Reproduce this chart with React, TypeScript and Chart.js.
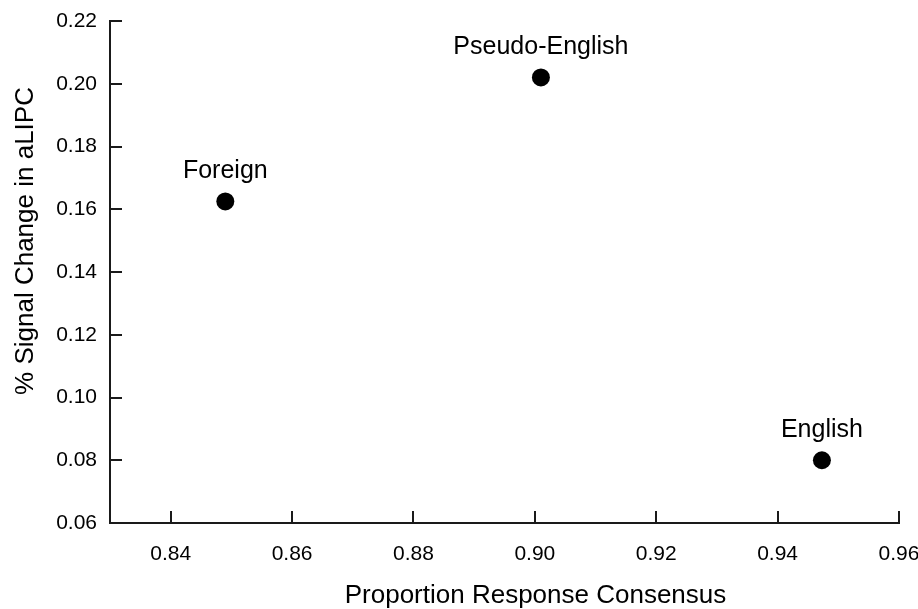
import { useEffect, useRef } from 'react';
import { Chart, registerables } from 'chart.js';

Chart.register(...registerables);

const categories = ['Foreign', 'Pseudo-English', 'English'];
const consensus = [0.849, 0.901, 0.9473];
const signalChange = [0.1625, 0.202, 0.08];
const xTickValues = [0.84, 0.86, 0.88, 0.9, 0.92, 0.94, 0.96];
const yTickValues = [0.06, 0.08, 0.1, 0.12, 0.14, 0.16, 0.18, 0.2, 0.22];
const xTitle = 'Proportion Response Consensus';
const yTitle = '% Signal Change in aLIPC';

const FONT = "'Liberation Sans', Arial, Helvetica, sans-serif";
const INK = '#000000';
const AXIS = '#1a1a1a';

const inwardTicks = {
  id: 'inwardTicks',
  afterDraw(chart: any) {
    const { ctx, chartArea } = chart;
    const xs = chart.scales.x;
    const ys = chart.scales.y;
    const len = 12;
    ctx.save();
    ctx.strokeStyle = AXIS;
    ctx.lineWidth = 2;
    ctx.beginPath();
    xs.ticks.forEach((t: any) => {
      const px = Math.round(xs.getPixelForValue(t.value));
      ctx.moveTo(px, chartArea.bottom);
      ctx.lineTo(px, chartArea.bottom - len);
    });
    ys.ticks.forEach((t: any) => {
      const py = Math.round(ys.getPixelForValue(t.value));
      ctx.moveTo(chartArea.left, py);
      ctx.lineTo(chartArea.left + len, py);
    });
    ctx.stroke();
    ctx.restore();
  },
};

const axisTitles = {
  id: 'axisTitles',
  afterDraw(chart: any) {
    const { ctx, chartArea } = chart;
    ctx.save();
    ctx.fillStyle = INK;
    ctx.font = `26px ${FONT}`;
    ctx.textAlign = 'center';
    ctx.textBaseline = 'alphabetic';
    const cx = (chartArea.left + chartArea.right) / 2 + 31;
    ctx.fillText(xTitle, cx, chart.height - 6);
    const cy = (chartArea.top + chartArea.bottom) / 2 - 31;
    ctx.translate(33, cy);
    ctx.rotate(-Math.PI / 2);
    ctx.fillText(yTitle, 0, 0);
    ctx.restore();
  },
};

const pointLabels = {
  id: 'pointLabels',
  afterDatasetsDraw(chart: any) {
    const { ctx } = chart;
    const meta = chart.getDatasetMeta(0);
    ctx.save();
    ctx.fillStyle = INK;
    ctx.font = `25px ${FONT}`;
    ctx.textAlign = 'center';
    ctx.textBaseline = 'alphabetic';
    meta.data.forEach((pt: any, i: number) => {
      ctx.fillText(categories[i], pt.x, pt.y - 23);
    });
    ctx.restore();
  },
};

export default function App() {
  const ref = useRef<HTMLCanvasElement | null>(null);

  useEffect(() => {
    document.body.style.margin = '0';
    const canvas = ref.current;
    if (!canvas) return;
    const chart = new Chart(canvas, {
      type: 'scatter',
      data: {
        datasets: [
          {
            data: consensus.map((x, i) => ({ x, y: signalChange[i] })),
            backgroundColor: INK,
            borderWidth: 0,
            pointRadius: 9,
            pointHoverRadius: 9,
          },
        ],
      },
      options: {
        animation: false,
        responsive: false,
        events: [],
        layout: { padding: { top: 21, right: 19, left: 0, bottom: 0 } },
        plugins: {
          legend: { display: false },
          tooltip: { enabled: false },
        },
        scales: {
          x: {
            type: 'linear',
            min: 0.83,
            max: 0.96,
            grid: { display: false, drawTicks: false, tickLength: 0 },
            border: { display: true, color: AXIS, width: 2 },
            afterBuildTicks: (scale: any) => {
              scale.ticks = xTickValues.map((v) => ({ value: v }));
            },
            afterFit: (scale: any) => {
              scale.height = 86;
              scale.paddingLeft = 0;
              scale.paddingRight = 0;
            },
            ticks: {
              padding: 19,
              color: INK,
              font: { family: FONT, size: 21 },
              maxRotation: 0,
              autoSkip: false,
              callback: (v: any) => Number(v).toFixed(2),
            },
            title: { display: false },
          },
          y: {
            type: 'linear',
            min: 0.06,
            max: 0.22,
            grid: { display: false, drawTicks: false, tickLength: 0 },
            border: { display: true, color: AXIS, width: 2 },
            afterBuildTicks: (scale: any) => {
              scale.ticks = yTickValues.map((v) => ({ value: v }));
            },
            afterFit: (scale: any) => {
              scale.width = 110;
              scale.paddingTop = 0;
              scale.paddingBottom = 0;
            },
            ticks: {
              padding: 13,
              color: INK,
              font: { family: FONT, size: 21 },
              autoSkip: false,
              callback: (v: any) => Number(v).toFixed(2),
            },
            title: { display: false },
          },
        },
      },
      plugins: [inwardTicks, pointLabels, axisTitles],
    });
    return () => chart.destroy();
  }, []);

  return (
    <div style={{ width: 918, height: 609, background: '#ffffff' }}>
      <canvas ref={ref} width={918} height={609} style={{ display: 'block' }} />
    </div>
  );
}
